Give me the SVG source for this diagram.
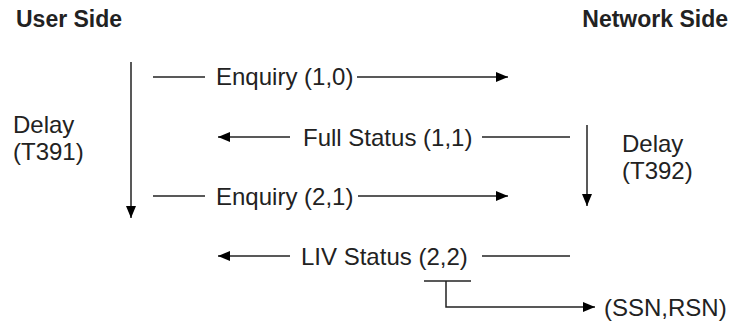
<svg xmlns="http://www.w3.org/2000/svg" width="733" height="321" viewBox="0 0 733 321">
<defs>
<marker id="ah" markerWidth="12" markerHeight="10" refX="12" refY="5" orient="auto" markerUnits="userSpaceOnUse">
<path d="M0,0 L12,5 L0,10 Z" fill="#000"/>
</marker>
<style>
text{font-family:"Liberation Sans",Arial,sans-serif;font-size:24px;fill:#222}
.h{font-weight:bold;font-size:23px}
.c{stroke:#222;stroke-width:1.5;fill:none}
</style>
</defs>
<rect width="733" height="321" fill="#fff"/>
<g id="user-side"><text class="h" x="16" y="27">User Side</text></g>
<g id="network-side"><text class="h" x="728" y="27" text-anchor="end">Network Side</text></g>
<g id="delay-t391"><text x="13" y="133">Delay</text><text x="13" y="160">(T391)</text></g>
<g id="delay-t392"><text x="622" y="152">Delay</text><text x="622" y="179">(T392)</text></g>
<g id="enquiry-10"><text x="216" y="85">Enquiry (1,0)</text></g>
<g id="full-status-11"><text x="303" y="146">Full Status (1,1)</text></g>
<g id="enquiry-21"><text x="216" y="205">Enquiry (2,1)</text></g>
<g id="liv-status-22"><text x="301" y="265">LIV Status (2,2)</text></g>
<g id="ssn-rsn"><text x="604" y="316">(SSN,RSN)</text></g>
<g id="connectors">
<line class="c" x1="131" y1="62" x2="131" y2="218" marker-end="url(#ah)"/>
<line class="c" x1="587" y1="125" x2="587" y2="206" marker-end="url(#ah)"/>
<line class="c" x1="153" y1="77" x2="205" y2="77"/>
<line class="c" x1="357" y1="77" x2="508" y2="77" marker-end="url(#ah)"/>
<line class="c" x1="570" y1="137" x2="482" y2="137"/>
<line class="c" x1="290" y1="137" x2="218" y2="137" marker-end="url(#ah)"/>
<line class="c" x1="153" y1="196" x2="205" y2="196"/>
<line class="c" x1="358" y1="196" x2="508" y2="196" marker-end="url(#ah)"/>
<line class="c" x1="570" y1="256" x2="482" y2="256"/>
<line class="c" x1="290" y1="256" x2="218" y2="256" marker-end="url(#ah)"/>
<line class="c" x1="424" y1="281" x2="471" y2="281"/>
<polyline class="c" points="446,281 446,307 595,307" marker-end="url(#ah)"/>
</g>
</svg>
